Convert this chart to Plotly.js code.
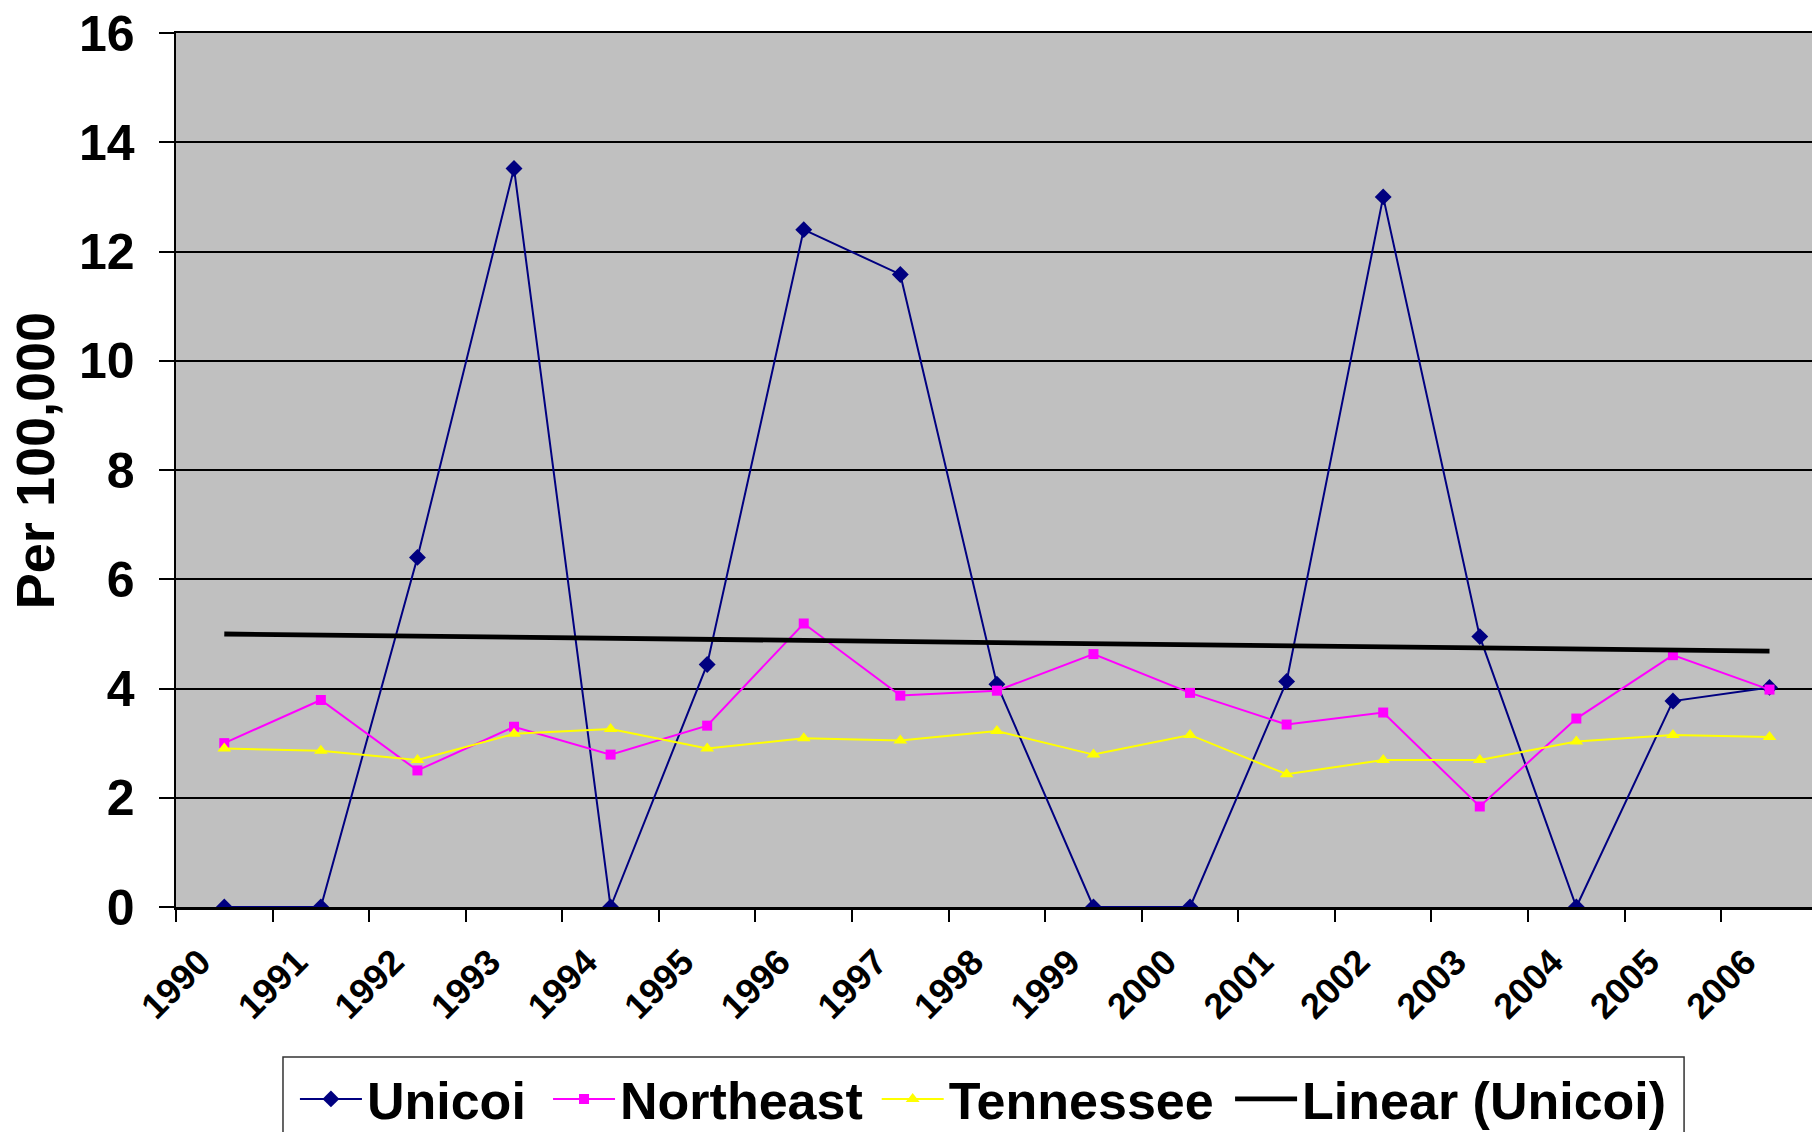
<!DOCTYPE html>
<html>
<head>
<meta charset="utf-8">
<script src="https://cdn.plot.ly/plotly-3.0.1.min.js"></script>
<style>
  html, body { margin: 0; padding: 0; background: #ffffff; }
  #chart { width: 1812px; height: 1132px; }
</style>
</head>
<body>
<div id="chart"></div>
<script>
// ---- data ----
const years = ['1990','1991','1992','1993','1994','1995','1996','1997','1998','1999','2000','2001','2002','2003','2004','2005','2006'];
const unicoi    = [0, 0, 6.40, 13.52, 0, 4.44, 12.40, 11.58, 4.08, 0, 0, 4.13, 13.00, 4.95, 0, 3.77, 4.02];
const northeast = [3.00, 3.79, 2.50, 3.30, 2.79, 3.32, 5.19, 3.87, 3.96, 4.63, 3.92, 3.34, 3.56, 1.84, 3.45, 4.61, 3.98];
const tennessee = [2.90, 2.86, 2.69, 3.17, 3.26, 2.90, 3.09, 3.05, 3.22, 2.79, 3.15, 2.43, 2.69, 2.69, 3.03, 3.15, 3.11];
const yTicks = [0, 2, 4, 6, 8, 10, 12, 14, 16];
const seriesNames = ['Unicoi', 'Northeast', 'Tennessee', 'Linear (Unicoi)'];
const yTitle = 'Per 100,000';

// Linear trendline of Unicoi (least squares, as Excel does)
function linearFit(vals) {
  const n = vals.length;
  let sx = 0, sy = 0, sxx = 0, sxy = 0;
  vals.forEach((v, i) => { sx += i; sy += v; sxx += i * i; sxy += i * v; });
  const b = (n * sxy - sx * sy) / (n * sxx - sx * sx);
  const a = (sy - b * sx) / n;
  return vals.map((v, i) => a + b * i);
}
const unicoiTrend = linearFit(unicoi);

const FONT = 'Liberation Sans, Arial, Helvetica, sans-serif';

const traces = [
  { x: years, y: unicoi, name: seriesNames[0], legend: 'legend', type: 'scatter', mode: 'lines+markers',
    line: { color: '#000080', width: 2 },
    marker: { symbol: 'diamond', size: 13, color: '#000080' } },
  { x: years, y: northeast, name: seriesNames[1], legend: 'legend2', type: 'scatter', mode: 'lines+markers',
    line: { color: '#FF00FF', width: 2 },
    marker: { symbol: 'square', size: 10, color: '#FF00FF' } },
  { x: years, y: tennessee, name: seriesNames[2], legend: 'legend3', type: 'scatter', mode: 'lines+markers',
    line: { color: '#FFFF00', width: 2 },
    marker: { symbol: 'triangle-up', size: 12, color: '#FFFF00' } },
  { x: years, y: unicoiTrend, name: seriesNames[3], legend: 'legend4', type: 'scatter', mode: 'lines',
    line: { color: '#000000', width: 4.8 } }
];

function legendAt(xPaper) {
  return {
    x: xPaper, xanchor: 'left',
    y: -0.2198, yanchor: 'middle',
    orientation: 'h',
    bgcolor: 'rgba(0,0,0,0)',
    borderwidth: 0,
    itemwidth: 62,
    font: { family: FONT, size: 52, color: '#000000', weight: 'bold' }
  };
}

const layout = {
  width: 1812, height: 1132,
  margin: { l: 176, r: 0, t: 33, b: 225, autoexpand: false },
  paper_bgcolor: '#ffffff',
  plot_bgcolor: '#C0C0C0',
  showlegend: true,
  font: { family: FONT, color: '#000000', weight: 'bold' },
  xaxis: {
    type: 'category',
    categoryorder: 'array', categoryarray: years,
    range: [-0.5, 16.44],
    tickson: 'boundaries',
    ticks: 'outside', ticklen: 12, tickwidth: 2, tickcolor: '#000000',
    tickangle: -45,
    ticklabelstandoff: 17,
    ticklabelshift: -24,
    tickfont: { family: FONT, size: 36, color: '#000000', weight: 'bold' },
    showgrid: false,
    showline: true, linecolor: '#000000', linewidth: 2.5, mirror: true,
    zeroline: false, fixedrange: true, automargin: false
  },
  yaxis: {
    range: [0, 16],
    tickvals: yTicks,
    ticktext: yTicks.map(String),
    ticks: 'outside', ticklen: 15, tickwidth: 2, tickcolor: '#000000',
    tickfont: { family: FONT, size: 50, color: '#000000', weight: 'bold' },
    ticklabelstandoff: 14,
    showgrid: true, gridcolor: '#000000', gridwidth: 2,
    showline: true, linecolor: '#000000', linewidth: 2.5,
    zeroline: false, fixedrange: true, automargin: false
  },
  annotations: [{
    text: yTitle, textangle: -90, showarrow: false,
    xref: 'paper', yref: 'paper',
    x: -0.0862, y: 0.5112, xanchor: 'center', yanchor: 'middle',
    font: { family: FONT, size: 54, color: '#000000', weight: 'bold' }
  }],
  legend:  legendAt(0.0727),
  legend2: legendAt(0.2274),
  legend3: legendAt(0.4283),
  legend4: legendAt(0.6443),
  shapes: [{
    type: 'rect', xref: 'paper', yref: 'paper',
    x0: 0.0654, x1: 0.9218, y0: -0.1717, y1: -0.40,
    line: { color: '#333333', width: 1.5 },
    fillcolor: '#ffffff', layer: 'below'
  }]
};

Plotly.newPlot('chart', traces, layout, { displayModeBar: false, staticPlot: true });
</script>
</body>
</html>
